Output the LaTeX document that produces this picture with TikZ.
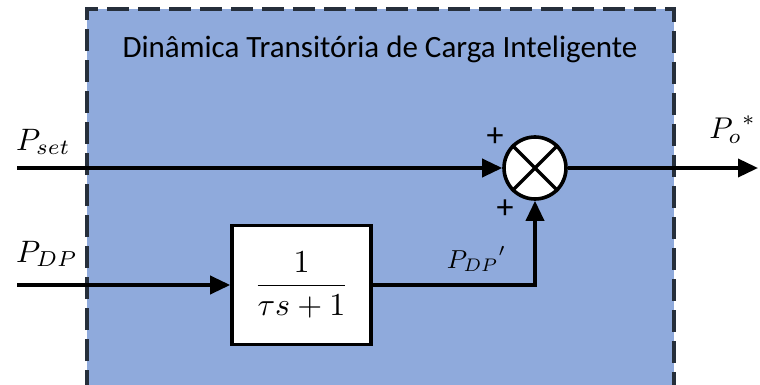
\documentclass[tikz,border=0pt]{standalone}
\usepackage{graphicx}
\usepackage[no-math]{fontspec}
\setmainfont{Carlito}
\usetikzlibrary{arrows.meta}
\definecolor{panelblue}{HTML}{8FAADC}
\definecolor{paneledge}{HTML}{262F3B}
\newcommand{\bigmath}[2]{\scalebox{#1}{$#2$}}
\tikzset{
  sig/.style={line width=3.6pt, -{Triangle[length=20pt,width=18pt]}},
  blk/.style={draw, line width=3.6pt, fill=white, minimum width=139pt, minimum height=119pt, inner sep=0pt},
  summer/.style={draw, circle, line width=3.6pt, fill=white, minimum size=62pt, inner sep=0pt},
  lbl/.style={inner sep=0pt},
  sign/.style={inner sep=0pt, font=\fontsize{34}{38}\selectfont},
}
\begin{document}
\begin{tikzpicture}[x=1pt,y=-1pt]
\useasboundingbox (0,0) rectangle (760,385);
% subsystem panel
\fill[panelblue] (87,9) rectangle (674,385);
\draw[paneledge, line width=4pt, dash pattern=on 22pt off 9pt]
  (87,392) -- (87,9) -- (674,9) -- (674,392);
\node[font=\fontsize{31}{36}\selectfont] (title) at (380,49) {Dinâmica Transitória de Carga Inteligente};
% blocks
\node[summer] (sum) at (535,168) {};
\draw[line width=3.2pt] (sum.north west) -- (sum.south east);
\draw[line width=3.2pt] (sum.north east) -- (sum.south west);
\node[blk] (lag) at (301.5,285) {\bigmath{3.2}{\displaystyle\frac{1}{\tau s+1}}};
% terminals
\coordinate (pin) at (17,168);
\coordinate (din) at (17,285);
\coordinate (pout) at (758,168);
% signals
\draw[sig] (pin) -- (sum.west);
\draw[sig] (din) -- (lag.west);
\draw[sig] (lag.east) -| (sum.south);
\draw[sig] (sum.east) -- (pout);
% labels
\node[lbl, anchor=base west] (lset) at (16,150) {\bigmath{3.1}{P_{set}}};
\node[lbl, anchor=base west] (ldp) at (16,262) {\bigmath{3.1}{P_{DP}}};
\node[lbl, anchor=base east] (lout) at (756,139) {\bigmath{3.0}{{P_o}^{*}}};
\node[lbl, anchor=base east] (ldpp) at (506,268) {\bigmath{2.6}{{P_{DP}}'}};
\node[sign] (s1) at (495,137) {+};
\node[sign] (s2) at (505,209) {+};
\end{tikzpicture}
\end{document}
